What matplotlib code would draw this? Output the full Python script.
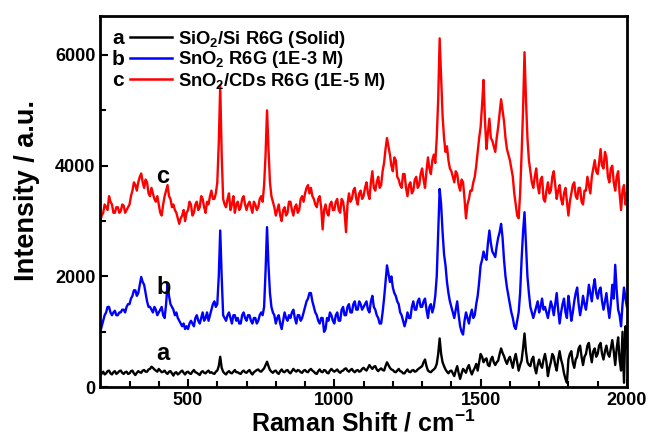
import matplotlib
matplotlib.use("Agg")
import matplotlib.pyplot as plt
import numpy as np

plt.rcParams["font.family"] = ["Liberation Sans", "DejaVu Sans"]
plt.rcParams["font.weight"] = "bold"
plt.rcParams["axes.labelweight"] = "bold"
plt.rcParams["mathtext.fontset"] = "custom"
plt.rcParams["mathtext.rm"] = "Liberation Sans:bold"
plt.rcParams["mathtext.bf"] = "Liberation Sans:bold"
plt.rcParams["mathtext.default"] = "bf"

# Raman shift grid (cm-1), one reading every 5 cm-1, 20 readings per row
shift = np.arange(200, 2001, 5)

# a: SiO2/Si R6G (Solid)
sio2_solid = [
    200, 250, 280, 230, 250, 290, 300, 250, 230, 270, 290, 240, 260, 290, 300, 260, 240, 270, 280, 240,
    250, 290, 300, 250, 220, 260, 290, 270, 260, 300, 310, 280, 280, 320, 330, 370, 350, 320, 300, 280,
    330, 300, 270, 280, 300, 260, 240, 280, 290, 250, 210, 260, 270, 230, 250, 280, 300, 260, 230, 270,
    280, 250, 240, 280, 310, 270, 260, 240, 220, 270, 290, 260, 250, 280, 300, 260, 270, 250, 240, 280,
    300, 380, 550, 350, 280, 250, 230, 270, 290, 260, 250, 280, 310, 270, 270, 250, 240, 280, 300, 270,
    260, 290, 310, 260, 230, 270, 290, 310, 320, 290, 280, 310, 340, 400, 460, 380, 310, 280, 260, 290,
    300, 260, 240, 290, 320, 280, 270, 300, 310, 270, 250, 290, 330, 300, 280, 310, 300, 270, 260, 300,
    310, 280, 270, 310, 330, 300, 280, 250, 240, 290, 320, 280, 270, 310, 300, 260, 250, 300, 330, 300,
    280, 300, 320, 280, 260, 290, 300, 330, 340, 300, 280, 310, 330, 290, 270, 300, 310, 280, 290, 330,
    350, 320, 300, 350, 400, 360, 330, 370, 380, 320, 290, 320, 340, 310, 300, 380, 450, 400, 350, 320,
    310, 280, 270, 300, 330, 290, 280, 250, 250, 290, 320, 280, 270, 300, 310, 280, 290, 320, 340, 360,
    380, 450, 500, 380, 300, 280, 270, 300, 320, 350, 420, 600, 880, 600, 450, 380, 320, 280, 250, 290,
    300, 250, 200, 300, 380, 250, 150, 250, 330, 300, 260, 350, 400, 300, 230, 300, 350, 420, 300, 450,
    600, 550, 450, 500, 520, 400, 380, 500, 550, 450, 400, 450, 480, 600, 700, 620, 560, 480, 420, 500,
    550, 450, 350, 500, 600, 450, 300, 400, 480, 700, 970, 650, 450, 400, 380, 500, 550, 350, 250, 400,
    500, 400, 350, 500, 600, 450, 200, 350, 450, 600, 550, 400, 300, 500, 650, 500, 400, 250, 150, 80,
    500, 600, 650, 450, 350, 500, 550, 700, 750, 550, 400, 550, 600, 750, 800, 600, 450, 650, 700, 550,
    600, 750, 800, 600, 500, 650, 750, 600, 550, 700, 850, 650, 400, 700, 900, 500, 300, 1000, 80, 1100,
    700,
]

# b: SnO2 R6G (1E-3 M)
sno2_1e3 = [
    1000, 1100, 1200, 1300, 1350, 1450, 1450, 1350, 1300, 1350, 1380, 1300, 1300, 1350, 1350, 1400, 1400, 1350, 1450, 1500,
    1500, 1600, 1650, 1750, 1750, 1650, 1700, 1850, 1990, 1900, 1850, 1700, 1550, 1450, 1450, 1400, 1350, 1450, 1400, 1300,
    1350, 1400, 1450, 1300, 1250, 1500, 1870, 1650, 1500, 1450, 1400, 1300, 1350, 1250, 1200, 1150, 1100, 1150, 1050, 1100,
    1050, 1150, 1200, 1150, 1100, 1250, 1300, 1200, 1150, 1250, 1350, 1200, 1250, 1350, 1200, 1300, 1400, 1500, 1550, 1450,
    1500, 2000, 2830, 2000, 1300, 1250, 1200, 1300, 1350, 1250, 1150, 1300, 1300, 1200, 1250, 1150, 1150, 1300, 1350, 1250,
    1200, 1300, 1300, 1200, 1150, 1250, 1250, 1150, 1200, 1300, 1350, 1300, 1450, 2100, 2890, 2200, 1700, 1450, 1350, 1300,
    1150, 1250, 1300, 1150, 1050, 1200, 1350, 1250, 1200, 1300, 1250, 1350, 1400, 1250, 1150, 1300, 1300, 1200, 1250, 1350,
    1450, 1550, 1600, 1700, 1700, 1550, 1450, 1350, 1300, 1200, 1150, 1250, 1250, 1000, 1050, 1250, 1200, 1350, 1300, 1200,
    1150, 1300, 1350, 1200, 1200, 1400, 1450, 1300, 1300, 1450, 1500, 1350, 1350, 1500, 1550, 1400, 1400, 1550, 1500, 1400,
    1450, 1500, 1550, 1400, 1350, 1550, 1650, 1450, 1400, 1300, 1250, 1150, 1150, 1350, 1600, 1900, 2200, 2050, 1900, 2000,
    1800, 1700, 1650, 1550, 1500, 1350, 1300, 1200, 1100, 1200, 1350, 1250, 1250, 1450, 1550, 1400, 1400, 1550, 1600, 1450,
    1450, 1550, 1600, 1400, 1250, 1450, 1500, 1350, 1450, 1650, 2000, 2800, 3580, 3300, 2800, 2400, 2200, 1900, 1700, 1550,
    1450, 1350, 1250, 1400, 1550, 1300, 1100, 1000, 950, 1200, 1350, 1250, 1150, 1300, 1400, 1250, 1300, 1500, 1650, 1900,
    2200, 2300, 2450, 2350, 2300, 2600, 2830, 2600, 2450, 2400, 2350, 2550, 2700, 2800, 2950, 2700, 2300, 2000, 1800, 1650,
    1500, 1350, 1250, 1100, 1050, 1200, 1350, 1700, 2300, 2800, 3160, 2600, 2000, 1700, 1450, 1350, 1250, 1350, 1450, 1550,
    1350, 1450, 1600, 1400, 1450, 1350, 1250, 1400, 1550, 1450, 1300, 1500, 1700, 1400, 1150, 1350, 1500, 1600, 1350, 1250,
    1650, 1450, 1200, 1350, 1550, 1700, 1800, 1500, 1300, 1450, 1650, 1500, 1400, 1600, 1850, 1700, 1550, 1800, 1950, 1700,
    1600, 1750, 1800, 1550, 1400, 1550, 1700, 1450, 1250, 1500, 1850, 1600, 2210, 1750, 1400, 1300, 1100, 1500, 1800, 1600,
    1450,
]

# c: SnO2/CDs R6G (1E-5 M)
sno2_cds_1e5 = [
    3000, 3100, 3150, 3300, 3250, 3200, 3450, 3350, 3300, 3150, 3150, 3250, 3250, 3150, 3180, 3300, 3280, 3150, 3200, 3250,
    3300, 3450, 3550, 3700, 3650, 3550, 3700, 3800, 3860, 3700, 3600, 3750, 3700, 3500, 3450, 3600, 3500, 3400, 3350, 3450,
    3300, 3150, 3100, 3300, 3450, 3550, 3650, 3450, 3400, 3250, 3300, 3200, 3150, 3050, 2950, 3050, 3100, 3200, 3000, 3150,
    3200, 3350, 3300, 3100, 3150, 3300, 3350, 3200, 3250, 3450, 3400, 3250, 3150, 3350, 3300, 3450, 3550, 3400, 3400, 3500,
    3700, 4400, 5450, 4200, 3400, 3300, 3250, 3400, 3500, 3200, 3300, 3450, 3150, 3300, 3350, 3200, 3250, 3400, 3450, 3300,
    3200, 3300, 3350, 3250, 3150, 3350, 3300, 3200, 3250, 3400, 3450, 3350, 3650, 4200, 5000, 4300, 3700, 3450, 3350, 3250,
    3100, 3200, 3300, 3100, 3000, 3200, 3250, 3100, 3150, 3350, 3350, 3200, 3100, 3250, 3300, 3150, 3200, 3400, 3450, 3350,
    3500, 3600, 3650, 3500, 3600, 3450, 3400, 3300, 3250, 3400, 3450, 3250, 2850, 3200, 3300, 3150, 3100, 3300, 3350, 3200,
    3200, 3350, 3400, 3200, 3150, 3400, 3350, 3150, 2800, 3300, 3500, 3350, 3400, 3550, 3600, 3400, 3300, 3500, 3550, 3400,
    3450, 3600, 3700, 3500, 3400, 3700, 3900, 3600, 3550, 3700, 3800, 3600, 3650, 3900, 4050, 4300, 4500, 4350, 4200, 4000,
    3900, 4150, 4100, 3800, 3750, 3650, 3600, 3850, 3850, 3600, 3450, 3650, 3700, 3500, 3550, 3750, 3800, 3600, 3650, 3850,
    3950, 3750, 3600, 3900, 4150, 3950, 3850, 4100, 4200, 4050, 4500, 5200, 6300, 5600, 4900, 4500, 4250, 4350, 4100, 3950,
    3900, 3800, 3700, 3900, 3850, 3650, 3550, 3750, 3700, 3400, 3050, 3300, 3400, 3550, 3550, 3700, 3800, 4000, 4250, 4500,
    4700, 5100, 5550, 4800, 4300, 4600, 4850, 4500, 4450, 4350, 4250, 4500, 4700, 4950, 5200, 5000, 4800, 4500, 4300, 4200,
    4100, 3950, 3800, 3500, 3300, 3100, 3050, 3500, 4200, 5000, 6050, 5200, 4500, 4100, 3900, 3700, 3600, 3800, 3950, 3650,
    3500, 3750, 3800, 3400, 3350, 3550, 3700, 3500, 3550, 3800, 3900, 3650, 3400, 3550, 3650, 3400, 3300, 3500, 3600, 3350,
    3100, 3350, 3500, 3650, 3700, 3450, 3400, 3600, 3600, 3350, 3300, 3550, 3550, 3800, 3650, 3500, 3800, 3950, 4100, 3900,
    3850, 4050, 4300, 4000, 3950, 4250, 4150, 3800, 3700, 3950, 4000, 3700, 3550, 3800, 3900, 3500, 3200, 3550, 3650, 3300,
    3500,
]

labels = ["SiO$_2$/Si R6G (Solid)", "SnO$_2$ R6G (1E-3 M)", "SnO$_2$/CDs R6G (1E-5 M)"]
letters = ["a", "b", "c"]
colors = ["black", "blue", "red"]

fig = plt.figure(figsize=(6.51, 4.38), dpi=100)
ax = fig.add_axes([0.154, 0.116, 0.809, 0.847])

for y, lab, c in zip([sio2_solid, sno2_1e3, sno2_cds_1e5], labels, colors):
    ax.plot(shift, y, color=c, lw=1.7, label=lab)

ax.set_xlim(200, 2000)
ax.set_ylim(0, 6700)
ax.set_xticks([500, 1000, 1500, 2000])
ax.set_xticks(np.arange(300, 2000, 100), minor=True)
ax.set_yticks([0, 2000, 4000, 6000])
ax.set_yticks([1000, 3000, 5000], minor=True)
ax.tick_params(which="both", direction="in", top=False, right=False,
               labelsize=13, width=1.5)
ax.tick_params(which="major", length=6)
ax.tick_params(which="minor", length=4)
for s in ax.spines.values():
    s.set_linewidth(2)

ax.set_xlabel("Raman Shift / cm$^{-1}$", fontsize=18, fontweight="bold", labelpad=1)
ax.set_ylabel("Intensity / a.u.", fontsize=19.5, fontweight="bold", labelpad=3)
ax.yaxis.set_label_coords(-0.115, 0.53)

leg = ax.legend(loc="upper left", bbox_to_anchor=(130 / 651, 1 - 28.5 / 438),
                bbox_transform=fig.transFigure, frameon=False,
                prop={"size": 13.2, "weight": "bold"}, handlelength=2.3,
                handletextpad=0.3, labelspacing=0.0, borderpad=0,
                borderaxespad=0)
for line in leg.get_lines():
    line.set_linewidth(1.8)

# letters in front of the legend rows
for i, t in enumerate(letters):
    fig.text(118 / 651, 1 - (39 + 20.8 * i) / 438, t, fontsize=15,
             ha="center", va="center", fontweight="bold")

# curve labels
ax.text(415, 3800, "c", fontsize=17, ha="center", va="center", fontweight="bold")
ax.text(415, 1800, "b", fontsize=17, ha="center", va="center", fontweight="bold")
ax.text(415, 600, "a", fontsize=17, ha="center", va="center", fontweight="bold")

fig.savefig("out.png", dpi=100)
